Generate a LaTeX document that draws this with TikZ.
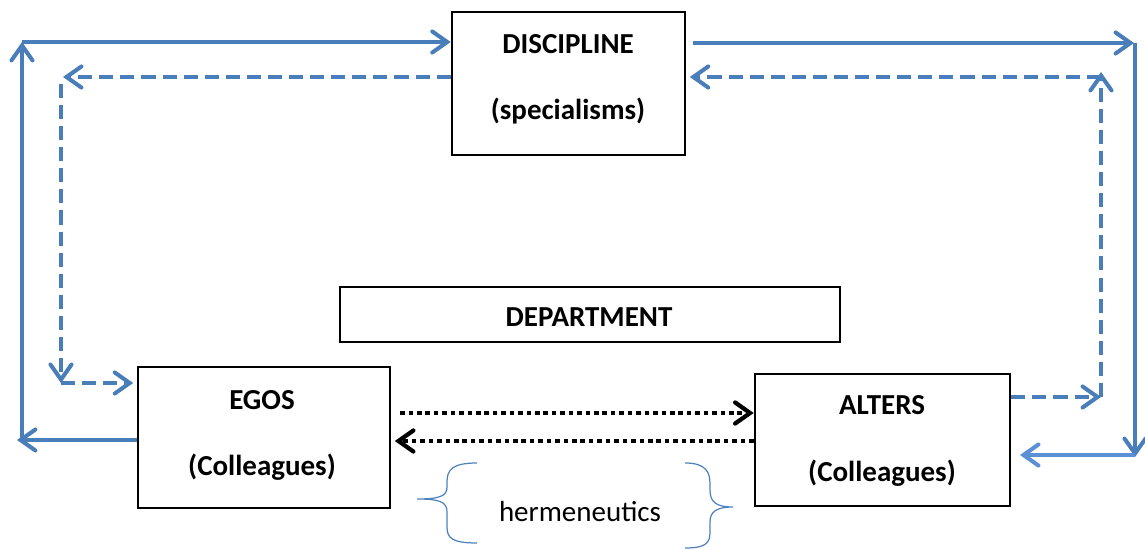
\documentclass[tikz,border=0pt]{standalone}
\usepackage{fontspec}
\setmainfont{Carlito}
\usetikzlibrary{arrows.meta}
\definecolor{lineblue}{HTML}{4A7EBB}
\definecolor{lightblue}{HTML}{5B8FD6}
\definecolor{braceblue}{HTML}{4F81BD}
\tikzset{
  box/.style={draw=black, line width=1.5pt, inner sep=0pt},
  thinbox/.style={draw=black, line width=0.7pt, inner sep=0pt},
  lbl/.style={inner sep=0pt, font=\fontsize{16.5}{18}\selectfont\bfseries},
  plain/.style={inner sep=0pt, font=\fontsize{16.5}{18}\selectfont},
  tip/.style={-{Straight Barb[length=8.5pt,width=12pt,line cap=round]}},
  sol/.style={draw=lineblue, line width=2.3pt, tip},
  dsh/.style={draw=lineblue, line width=2.3pt, tip, dash pattern=on 8pt off 4pt},
  dots/.style={draw=black, line width=2.4pt, tip, dash pattern=on 2.6pt off 2.2pt},
  brace/.style={draw=braceblue, line width=0.7pt}
}
\begin{document}
\begin{tikzpicture}[x=0.02cm,y=-0.02cm]
\useasboundingbox (0,0) rectangle (1145,550);
% boxes
\node[box, minimum width=4.66cm, minimum height=2.86cm] (disc) at (568.5,83.5) {};
\node[thinbox, minimum width=10cm, minimum height=1.1cm] (dept) at (590,314.5) {};
\node[box, minimum width=5.04cm, minimum height=2.82cm] (egos) at (264,437.5) {};
\node[box, minimum width=5.1cm, minimum height=2.64cm] (alters) at (882.5,440) {};
% texts
\node[lbl] (discA) at (568,44) {DISCIPLINE};
\node[lbl] (discB) at (568,111) {(specialisms)};
\node[lbl] (deptA) at (589,317) {DEPARTMENT};
\node[lbl] (egosA) at (262,400) {EGOS};
\node[lbl] (egosB) at (262,467) {(Colleagues)};
\node[lbl] (altA) at (882,405) {ALTERS};
\node[lbl] (altB) at (882,473) {(Colleagues)};
\node[plain] (herm) at (580,512) {hermeneutics};
% coordinates
\coordinate (lbT) at (17,440);
\coordinate (lbC) at (22,440);
\coordinate (ltC) at (22,42);
\coordinate (rtT) at (1134,43);
\coordinate (rtC) at (1135,43);
\coordinate (rbT) at (1135,457);
\coordinate (rbC) at (1135,455);
\coordinate (arT) at (1020,455);
\coordinate (dltT) at (63,77);
\coordinate (dltC) at (61,84);
\coordinate (dlbC) at (61,383);
\coordinate (drbC) at (1101,397);
\coordinate (drtT) at (1101,72);
\coordinate (drtC) at (1101,77);
% solid outer loop
\draw[sol] (egos.west |- lbT) -- (lbT);
\draw[sol] (lbC) -- (ltC);
\draw[sol] (ltC) -- (disc.west |- ltC);
\draw[sol] ([xshift=4]disc.east |- rtT) -- (rtT);
\draw[sol] (rtC) -- (rbT);
\draw[sol, draw=lightblue] (rbC) -- (arT);
% dashed inner loop
\draw[dsh] (disc.west |- dltT) -- (dltT);
\draw[dsh] (dltC) -- (dlbC);
\draw[dsh] (dlbC) -- ([xshift=-2]egos.west |- dlbC);
\draw[dsh] (alters.east |- drbC) -- (drbC);
\draw[dsh] (drbC) -- (drtT);
\draw[dsh] (drtC) -- ([xshift=2]disc.east |- drtC);
% dotted exchange
\draw[dots, shorten <=5] (egos.east |- 0,413) -- (alters.west |- 0,413);
\draw[dots] (alters.west |- 0,441) -- ([xshift=2]egos.east |- 0,441);
% braces
\draw[brace] (477,463) .. controls (452,463) and (447,470) .. (447,482)
  -- (447,487) .. controls (447,496) and (440,499) .. (417,499)
  .. controls (440,499) and (447,502) .. (447,512)
  -- (447,527) .. controls (447,538) and (452,543) .. (477,543);
\draw[brace] (685,463) .. controls (706,463) and (710,472) .. (710,484)
  -- (710,490) .. controls (710,502) and (716,507) .. (733,507)
  .. controls (716,507) and (710,512) .. (710,522)
  -- (710,532) .. controls (710,543) and (706,548) .. (685,548);
\end{tikzpicture}
\end{document}
